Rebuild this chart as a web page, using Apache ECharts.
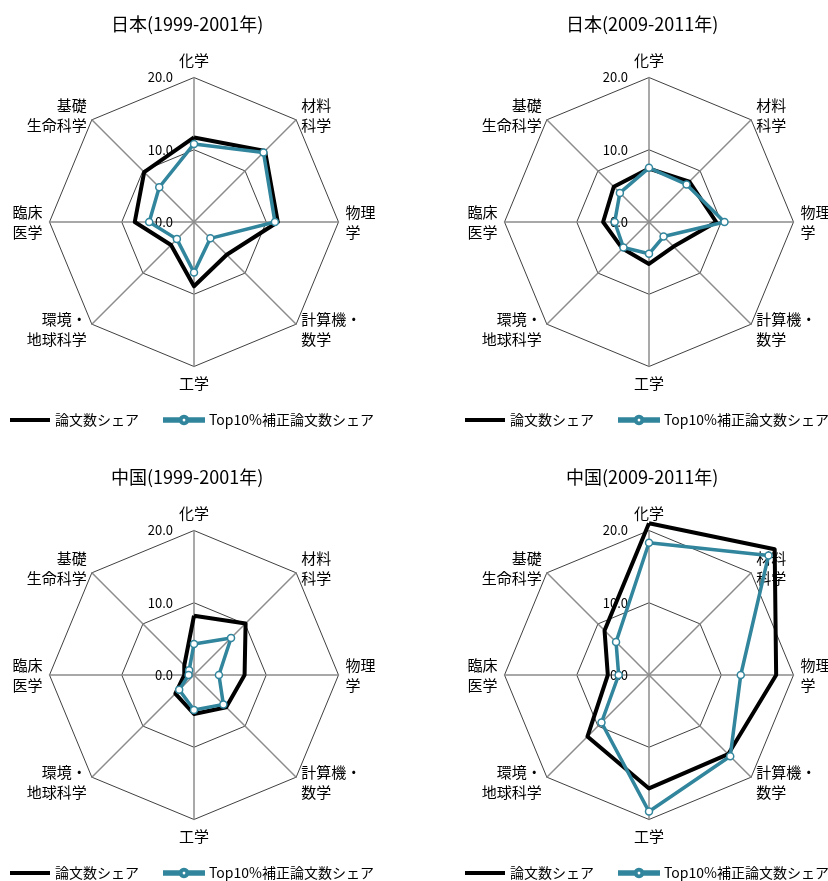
<!DOCTYPE html>
<html>
<head>
<meta charset="utf-8">
<script src="https://cdn.jsdelivr.net/npm/echarts@6/dist/echarts.min.js"></script>
<style>
html,body{margin:0;padding:0;background:#fff;}
#chart{width:828px;height:881px;}
</style>
</head>
<body>
<div id="chart"></div>
<script>
// Fields, clockwise from top
const fields = ['化学', '材料\n科学', '物理\n学', '計算機・\n数学', '工学', '環境・\n地球科学', '臨床\n医学', '基礎\n生命科学'];
const panelTitles = ['日本(1999-2001年)', '日本(2009-2011年)', '中国(1999-2001年)', '中国(2009-2011年)'];
const seriesNames = ['論文数シェア', 'Top10%補正論文数シェア'];
const tickMax = 20;
const tickStep = 10;

// 論文数シェア (%)
const jp1999Share = [11.7, 13.9, 11.6, 6.4, 8.9, 4.5, 8.2, 9.75];
const jp2009Share = [7.4, 7.9, 9.3, 4.8, 5.8, 5.2, 6.35, 6.9];
const cn1999Share = [8.2, 10.1, 7.0, 6.3, 5.4, 3.65, 1.35, 1.9];
const cn2009Share = [21.0, 24.6, 17.6, 15.5, 15.7, 12.05, 5.7, 8.7];
// Top10%補正論文数シェア (%)
const jp1999Top = [10.8, 13.6, 11.2, 3.2, 7.0, 3.35, 6.2, 6.8];
const jp2009Top = [7.5, 7.35, 10.45, 2.85, 4.4, 5.0, 4.75, 5.7];
const cn1999Top = [4.3, 7.25, 3.45, 5.75, 4.85, 2.9, 0.75, 0.95];
const cn2009Top = [18.3, 23.4, 12.7, 15.9, 18.9, 9.3, 4.2, 6.45];

const shareSets = [jp1999Share, jp2009Share, cn1999Share, cn2009Share];
const topSets = [jp1999Top, jp2009Top, cn1999Top, cn2009Top];

const FONT = '"Noto Sans CJK JP", "Noto Sans", sans-serif';
const TEAL = '#31859C';

// panel layout (pixels)
const centers = [[194, 222], [649, 222], [194, 675], [649, 675]];
const R = 144.5;

// ECharts places indicators counter-clockwise; reorder so they read clockwise
function ccwOrder(arr) {
  return [arr[0]].concat(arr.slice(1).reverse());
}

// legend icon shapes (line with hollow circle marker)
function circlePath(cx, cy, r, reverse) {
  const n = 24;
  let pts = [];
  for (let k = 0; k < n; k++) {
    const a = (reverse ? -1 : 1) * k * 2 * Math.PI / n;
    pts.push((cx + r * Math.cos(a)).toFixed(2) + ',' + (cy + r * Math.sin(a)).toFixed(2));
  }
  return 'M' + pts.join(' L') + ' Z';
}
const blackIcon = 'path://M0,0 L40,0 L40,4 L0,4 Z';
const tealIcon = 'path://M0,2.75 L16,2.75 L16,6.25 L0,6.25 Z M24,2.75 L40,2.75 L40,6.25 L24,6.25 Z '
  + circlePath(20, 4.5, 4.3, false) + ' ' + circlePath(20, 4.5, 2.4, true);

const radars = [];
const series = [];
const titles = [];
const legends = [];

centers.forEach((c, p) => {
  const ind = ccwOrder(fields).map((f, i) => {
    const o = { name: f, min: 0, max: tickMax };
    if (i === 0) {
      o.axisLabel = {
        show: true, fontSize: 13, color: '#000', fontFamily: FONT, margin: 21,
        formatter: v => Number(v).toFixed(1)
      };
    }
    return o;
  });
  radars.push({
    center: c,
    radius: R,
    startAngle: 90,
    splitNumber: tickMax / tickStep,
    shape: 'polygon',
    indicator: ind,
    nameGap: 7,
    axisName: {
      color: '#000', fontSize: 15, fontFamily: FONT, lineHeight: 20
    },
    splitLine: { lineStyle: { color: '#404040', width: 1 } },
    splitArea: { show: false },
    axisLine: { lineStyle: { color: '#8c8c8c', width: 1.5 } },
    axisTick: { show: false },
    axisLabel: { show: false }
  });
  series.push({
    type: 'radar',
    radarIndex: p,
    name: seriesNames[0],
    symbol: 'none',
    lineStyle: { color: '#000', width: 4 },
    itemStyle: { color: '#000' },
    emphasis: { disabled: true },
    silent: true,
    z: 2,
    data: [{ value: ccwOrder(shareSets[p]), name: seriesNames[0] }]
  });
  series.push({
    type: 'radar',
    radarIndex: p,
    name: seriesNames[1],
    symbol: 'circle',
    symbolSize: 7,
    lineStyle: { color: TEAL, width: 3.5 },
    itemStyle: { color: '#fff', borderColor: TEAL, borderWidth: 1.5 },
    emphasis: { disabled: true },
    silent: true,
    z: 3,
    data: [{ value: ccwOrder(topSets[p]), name: seriesNames[1] }]
  });
  titles.push({
    text: panelTitles[p],
    left: c[0] - 88,
    top: c[1] - 222 + 10,
    textStyle: { fontSize: 18, fontWeight: 'normal', color: '#000', fontFamily: FONT }
  });
  legends.push({
    left: c[0] - 184,
    top: c[1] - 222 + 413,
    width: 500,
    padding: 0,
    itemWidth: 40,
    itemHeight: 9,
    itemGap: 24,
    selectedMode: false,
    textStyle: { fontSize: 14, color: '#000', fontFamily: FONT },
    data: [
      { name: seriesNames[0], icon: blackIcon, itemStyle: { color: '#000' } },
      { name: seriesNames[1], icon: tealIcon, itemStyle: { color: TEAL } }
    ]
  });
});

const chart = echarts.init(document.getElementById('chart'), null, { renderer: 'canvas' });
chart.setOption({
  backgroundColor: '#fff',
  animation: false,
  textStyle: { fontFamily: FONT },
  title: titles,
  legend: legends,
  radar: radars,
  series: series
});
</script>
</body>
</html>
